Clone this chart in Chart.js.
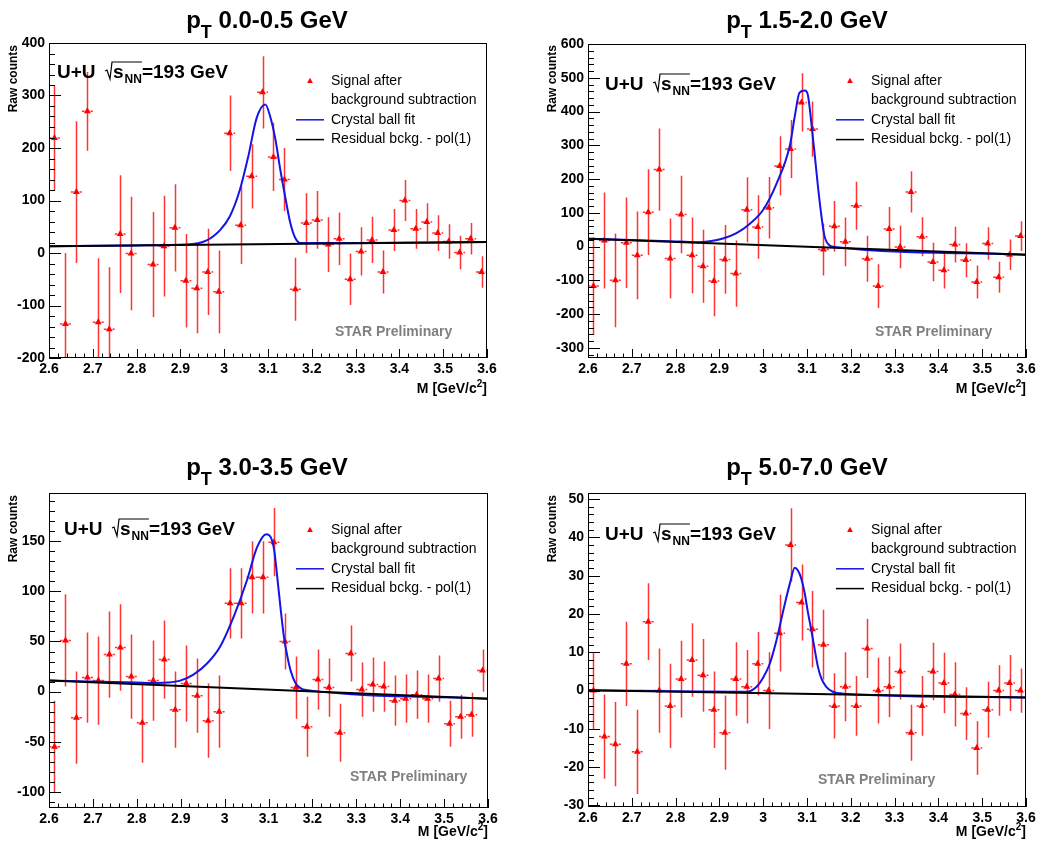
<!DOCTYPE html>
<html>
<head>
<meta charset="utf-8">
<script src="https://cdn.jsdelivr.net/npm/chart.js@4.4.0/dist/chart.umd.min.js"></script>
<style>
body { margin: 0; background: #fff; width: 1041px; height: 850px; position: relative; overflow: hidden; }
canvas { position: absolute; }
</style>
</head>
<body>
<canvas id="pt1" width="520" height="425" style="left:0px;top:0px;width:520px;height:425px"></canvas>
<canvas id="pt2" width="521" height="425" style="left:520px;top:0px;width:521px;height:425px"></canvas>
<canvas id="pt3" width="520" height="425" style="left:0px;top:425px;width:520px;height:425px"></canvas>
<canvas id="pt4" width="521" height="425" style="left:520px;top:425px;width:521px;height:425px"></canvas>
<script>
// invariant mass bin centres (GeV/c^2), bin width 0.025
var massBins = [2.6125, 2.6375, 2.6625, 2.6875, 2.7125, 2.7375, 2.7625, 2.7875, 2.8125, 2.8375,
                2.8625, 2.8875, 2.9125, 2.9375, 2.9625, 2.9875, 3.0125, 3.0375, 3.0625, 3.0875,
                3.1125, 3.1375, 3.1625, 3.1875, 3.2125, 3.2375, 3.2625, 3.2875, 3.3125, 3.3375,
                3.3625, 3.3875, 3.4125, 3.4375, 3.4625, 3.4875, 3.5125, 3.5375, 3.5625, 3.5875];
var halfBin = 0.0125;
var ptRanges = ['0.0-0.5', '1.5-2.0', '3.0-3.5', '5.0-7.0'];

// pT 0.0-0.5 : signal after subtraction and its error (empty bin = null)
var sig1 = [219, -135, 116, 270, -132, -145, 36, -1, null, -22, 13, 48, -53, -67, -36, -74, 228, 53, 146, 306,
            183, 140, -69, 57, 63, 16, 27, -50, 3, 25, -36, 44, 100, 46, 59, 38, 22, 1, 27, -36];
var err1 = [100, 135, 135, 75, 122, 118, 112, 108, null, 100, 96, 83, 89, 86, 82, 79, 72, 74, 61, 69,
            65, 60, 60, 57, 55, 52, 50, 49, 46, 44, 41, 40, 39, 38, 36, 34, 33, 32, 30, 30];
// pT 1.5-2.0
var sig2 = [-117, 18, -100, 11, -26, 102, 228, -35, 95, -26, -58, -102, -38, -80, 109, 58, 115, 239, 289, 427,
            348, -9, 60, 14, 121, -36, -117, 52, -1, 162, 29, -46, -70, 6, -40, -105, 9, -91, -24, 31];
var err2 = [145, 142, 139, 134, 130, 127, 122, 118, 115, 112, 108, 104, 102, 98, 96, 94, 91, 88, 86, 86,
            82, 77, 75, 72, 71, 68, 65, 65, 63, 61, 58, 57, 54, 53, 50, 49, 48, 46, 45, 44];
// pT 3.0-3.5
var sig3 = [-55, 51, -26, 14, 11, 37, 44, 15, -31, 11, 32, -18, 8, -4, -29, -20, 88, 88, 114, 114,
            149, 50, 4, -35, 12, 4, -41, 38, 2, 7, 5, -9, -7, -3, -7, 13, -32, -25, -23, 21];
var err3 = [46, 46, 46, 45, 44, 43, 43, 42, 40, 40, 39, 38, 38, 37, 37, 36, 35, 35, 36, 36,
            34, 28, 31, 30, 30, 29, 29, 28, 27, 27, 25, 25, 24, 24, 24, 23, 23, 22, 22, 21];
// pT 5.0-7.0
var sig4 = [0, -12, -14, 7, -16, 18, 0, -4, 3, 8, 4, -5, -11, 3, 1, 7, 0, 15, 38, 23,
            16, 12, -4, 1, -4, 11, 0, 1, 5, -11, -4, 5, 2, -1, -6, -15, -5, 0, 2, 0];
var err4 = [10, 11, 11, 11, 11, 10, 11, 11, 10, 9.6, 9.5, 10, 9.7, 9.6, 9.6, 8.3, 10, 10, 9.6, 9.9,
            10, 9.1, 8.5, 9, 7.8, 7.7, 8.6, 7.9, 7.3, 7.3, 7.8, 7.5, 7.9, 8.4, 6.9, 7, 7.3, 6.6, 7.3, 5.8];

// crystal ball + background fit, sampled along the curve
var fitM1 = [2.6, 2.8, 2.914, 2.96, 2.991, 3.013, 3.036, 3.055, 3.074, 3.094, 3.105, 3.117, 3.128, 3.139, 3.151, 3.162, 3.174, 3.3, 3.6];
var fitY1 = [13, 14.5, 16, 24, 44, 70, 121, 184, 257, 283, 260, 216, 159, 108, 57, 29, 19, 19, 21];
var fitM2 = [2.6, 2.787, 2.848, 2.878, 2.908, 2.939, 2.969, 3.0, 3.03, 3.061, 3.072, 3.083, 3.095, 3.102, 3.11, 3.118, 3.125, 3.133, 3.14, 3.152, 3.163, 3.6];
var fitY2 = [23, 16, 13, 16, 24, 40, 67, 109, 185, 300, 385, 456, 462, 449, 365, 267, 178, 90, 31, 3, -1, -24];
var fitM3 = [2.6, 2.8, 2.838, 2.868, 2.899, 2.929, 2.96, 2.99, 3.021, 3.051, 3.074, 3.095, 3.105, 3.113, 3.12, 3.128, 3.135, 3.143, 3.151, 3.162, 3.174, 3.189, 3.6];
var fitY3 = [11, 9, 8.6, 9, 11, 17, 28, 45, 75, 111, 144, 157, 154, 141, 114, 81, 55, 35, 20, 8, 3, 1.5, -7];
var fitM4 = [2.6, 2.962, 2.985, 3.0, 3.015, 3.03, 3.046, 3.061, 3.072, 3.079, 3.087, 3.095, 3.102, 3.11, 3.118, 3.125, 3.133, 3.144, 3.159, 3.182, 3.6];
var fitY4 = [0.1, -0.3, 1, 3.4, 7, 13, 21, 28, 32.1, 31.4, 29.2, 25.3, 20.5, 15.7, 10.5, 6.2, 3.1, 1, -0.3, -0.8, -1.8];

// residual background pol(1), end points
var bkgM = [2.6, 3.6];
var bkgY1 = [13, 21];
var bkgY2 = [23, -24];
var bkgY3 = [11, -7];
var bkgY4 = [0.1, -1.8];

var FONT = '"Liberation Sans", Arial, Helvetica, sans-serif';

var panels = [
  { canvas: 'pt1', sig: sig1, err: err1, fitM: fitM1, fitY: fitY1, bkgY: bkgY1, pt: ptRanges[0],
    yMin: -200, yMax: 400, yStep: 100, yMinor: 20,
    pad: { left: 0, top: 43, right: 33, bottom: 0 }, xAxisH: 67,
    titleX: 267, titleY: 28, uuX: 57, uuY: 78, legX: 296, legY: 81, starX: 335, starY: 332,
    yTitleX: 14, yTitleY: 45, xTitleX: 487, xTitleY: 393 },
  { canvas: 'pt2', sig: sig2, err: err2, fitM: fitM2, fitY: fitY2, bkgY: bkgY2, pt: ptRanges[1],
    yMin: -330, yMax: 600, yStep: 100, yMinor: 20,
    pad: { left: 19, top: 44, right: 15, bottom: 0 }, xAxisH: 67,
    titleX: 287, titleY: 28, uuX: 85, uuY: 90, legX: 316, legY: 81, starX: 355, starY: 332,
    yTitleX: 33, yTitleY: 45, xTitleX: 506, xTitleY: 393 },
  { canvas: 'pt3', sig: sig3, err: err3, fitM: fitM3, fitY: fitY3, bkgY: bkgY3, pt: ptRanges[2],
    yMin: -116, yMax: 198, yStep: 50, yMinor: 10,
    pad: { left: 0, top: 68, right: 32, bottom: 0 }, xAxisH: 42,
    titleX: 267, titleY: 50, uuX: 64, uuY: 110, legX: 296, legY: 105, starX: 350, starY: 352,
    yTitleX: 14, yTitleY: 70, xTitleX: 488, xTitleY: 411 },
  { canvas: 'pt4', sig: sig4, err: err4, fitM: fitM4, fitY: fitY4, bkgY: bkgY4, pt: ptRanges[3],
    yMin: -30.4, yMax: 51.6, yStep: 10, yMinor: 2,
    pad: { left: 19, top: 68, right: 15, bottom: 0 }, xAxisH: 43,
    titleX: 287, titleY: 50, uuX: 85, uuY: 115, legX: 316, legY: 105, starX: 298, starY: 355,
    yTitleX: 33, yTitleY: 70, xTitleX: 506, xTitleY: 411 }
];

function toPoints(xs, ys) {
  var out = [];
  for (var i = 0; i < xs.length; i++) {
    if (ys[i] === null) continue;
    out.push({ x: xs[i], y: ys[i] });
  }
  return out;
}

function triangle(ctx, x, y, r) {
  ctx.beginPath();
  ctx.moveTo(x, y - r);
  ctx.lineTo(x + r * 0.9, y + r * 0.6);
  ctx.lineTo(x - r * 0.9, y + r * 0.6);
  ctx.closePath();
  ctx.fill();
}

// "p_T 0.0-0.5 GeV" centred on cx
function drawTitle(ctx, cx, base, pt) {
  var big = 'bold 24px ' + FONT, sub = 'bold 18px ' + FONT;
  var rest = ' ' + pt + ' GeV';
  ctx.font = big;
  var wp = ctx.measureText('p').width, wr = ctx.measureText(rest).width;
  ctx.font = sub;
  var wt = ctx.measureText('T').width;
  var x = cx - (wp + wt + wr) / 2;
  ctx.textAlign = 'left';
  ctx.textBaseline = 'alphabetic';
  ctx.fillStyle = '#000';
  ctx.font = big; ctx.fillText('p', x, base);
  ctx.font = sub; ctx.fillText('T', x + wp, base + 10);
  ctx.font = big; ctx.fillText(rest, x + wp + wt, base);
}

// "U+U  sqrt(s_NN)=193 GeV"
function drawSystem(ctx, x, base) {
  var big = 'bold 19px ' + FONT, sub = 'bold 12px ' + FONT;
  ctx.fillStyle = '#000';
  ctx.strokeStyle = '#000';
  ctx.textAlign = 'left';
  ctx.textBaseline = 'alphabetic';
  ctx.font = big;
  ctx.fillText('U+U', x, base);
  var rx = x + 49;
  var sx = rx + 7;
  ctx.fillText('s', sx, base);
  var nx = sx + ctx.measureText('s').width + 1;
  ctx.font = sub;
  ctx.fillText('NN', nx, base + 5);
  var ex = nx + ctx.measureText('NN').width;
  ctx.lineWidth = 1.2;
  ctx.beginPath();
  ctx.moveTo(rx - 1, base - 7);
  ctx.lineTo(rx + 1, base - 8);
  ctx.lineTo(rx + 4, base + 1);
  ctx.lineTo(rx + 6, base - 16);
  ctx.lineTo(ex, base - 16);
  ctx.stroke();
  ctx.font = big;
  ctx.fillText('=193 GeV', ex, base);
}

var rootStyle = {
  id: 'rootStyle',
  beforeDatasetsDraw: function (chart) {
    var p = chart.options.plugins.rootStyle.panel;
    var ctx = chart.ctx, xs = chart.scales.x, ys = chart.scales.y, area = chart.chartArea;
    ctx.save();
    ctx.beginPath();
    ctx.rect(area.left, area.top, area.right - area.left, area.bottom - area.top);
    ctx.clip();
    ctx.strokeStyle = 'rgba(255,0,0,0.8)';
    ctx.lineWidth = 1.5;
    for (var i = 0; i < massBins.length; i++) {
      if (p.sig[i] === null) continue;
      var px = Math.round(xs.getPixelForValue(massBins[i])) + 0.5;
      var py = ys.getPixelForValue(p.sig[i]);
      var y1 = ys.getPixelForValue(p.sig[i] + p.err[i]);
      var y2 = ys.getPixelForValue(p.sig[i] - p.err[i]);
      var xl = xs.getPixelForValue(massBins[i] - halfBin);
      var xr = xs.getPixelForValue(massBins[i] + halfBin);
      ctx.beginPath();
      ctx.moveTo(px, y1); ctx.lineTo(px, y2);
      ctx.moveTo(xl, py); ctx.lineTo(px - 3, py);
      ctx.moveTo(px + 3, py); ctx.lineTo(xr, py);
      ctx.stroke();
    }
    ctx.restore();
  },
  afterDraw: function (chart) {
    var p = chart.options.plugins.rootStyle.panel;
    var ctx = chart.ctx, xs = chart.scales.x, ys = chart.scales.y, a = chart.chartArea;
    ctx.save();
    // frame
    ctx.strokeStyle = '#000';
    ctx.lineWidth = 1;
    ctx.strokeRect(Math.round(a.left) + 0.5, Math.round(a.top) + 0.5,
                   Math.round(a.right - a.left) - 1, Math.round(a.bottom - a.top) - 1);
    // ticks drawn inside the frame
    ctx.beginPath();
    var k, v, t;
    for (k = 0; k <= 50; k++) {
      v = 2.6 + k * 0.02;
      t = Math.round(xs.getPixelForValue(v)) + 0.5;
      var len = (k % 5 === 0) ? 9 : 4.5;
      ctx.moveTo(t, a.bottom);
      ctx.lineTo(t, a.bottom - len);
    }
    var k0 = Math.ceil(p.yMin / p.yMinor - 1e-6), k1 = Math.floor(p.yMax / p.yMinor + 1e-6);
    var per = Math.round(p.yStep / p.yMinor);
    for (k = k0; k <= k1; k++) {
      v = k * p.yMinor;
      t = Math.round(ys.getPixelForValue(v)) + 0.5;
      var ylen = (((k % per) + per) % per === 0) ? 12 : 6;
      ctx.moveTo(a.left, t);
      ctx.lineTo(a.left + ylen, t);
    }
    ctx.stroke();

    drawTitle(ctx, p.titleX, p.titleY, p.pt);
    drawSystem(ctx, p.uuX, p.uuY);

    // legend
    var lx = p.legX, ly = p.legY;
    ctx.fillStyle = '#ff0000';
    triangle(ctx, lx + 14, ly, 3.2);
    ctx.lineWidth = 1.5;
    ctx.strokeStyle = '#1414e6';
    ctx.beginPath(); ctx.moveTo(lx, ly + 38.8); ctx.lineTo(lx + 28, ly + 38.8); ctx.stroke();
    ctx.strokeStyle = '#000';
    ctx.beginPath(); ctx.moveTo(lx, ly + 58.6); ctx.lineTo(lx + 28, ly + 58.6); ctx.stroke();
    ctx.fillStyle = '#000';
    ctx.font = '14px ' + FONT;
    ctx.textAlign = 'left';
    ctx.textBaseline = 'middle';
    ctx.fillText('Signal after', lx + 35, ly);
    ctx.fillText('background subtraction', lx + 35, ly + 19.5);
    ctx.fillText('Crystal ball fit', lx + 35, ly + 38.8);
    ctx.fillText('Residual bckg. - pol(1)', lx + 35, ly + 58.6);

    ctx.fillStyle = '#808080';
    ctx.font = 'bold 14px ' + FONT;
    ctx.fillText('STAR Preliminary', p.starX, p.starY);

    // axis titles
    ctx.fillStyle = '#000';
    ctx.save();
    ctx.translate(p.yTitleX, p.yTitleY);
    ctx.rotate(-Math.PI / 2);
    ctx.textAlign = 'right';
    ctx.textBaseline = 'middle';
    ctx.font = 'bold 12px ' + FONT;
    ctx.fillText('Raw counts', 0, 0);
    ctx.restore();

    ctx.textBaseline = 'alphabetic';
    ctx.textAlign = 'left';
    ctx.font = 'bold 14px ' + FONT;
    var w1 = ctx.measureText('M [GeV/c').width, w3 = ctx.measureText(']').width;
    ctx.font = 'bold 10px ' + FONT;
    var w2 = ctx.measureText('2').width;
    var x0 = p.xTitleX - w1 - w2 - w3;
    ctx.font = 'bold 14px ' + FONT;
    ctx.fillText('M [GeV/c', x0, p.xTitleY);
    ctx.fillText(']', x0 + w1 + w2, p.xTitleY);
    ctx.font = 'bold 10px ' + FONT;
    ctx.fillText('2', x0 + w1, p.xTitleY - 6);
    ctx.restore();
  }
};

function tickText(v) {
  return String(+v.toFixed(2));
}

panels.forEach(function (p) {
  var ctx = document.getElementById(p.canvas).getContext('2d');
  new Chart(ctx, {
    type: 'scatter',
    data: {
      datasets: [
        { label: 'Residual bckg. - pol(1)', data: toPoints(bkgM, p.bkgY), showLine: true,
          borderColor: '#000', borderWidth: 2, pointRadius: 0, order: 0 },
        { label: 'Crystal ball fit', data: toPoints(p.fitM, p.fitY), showLine: true,
          borderColor: '#1414e6', borderWidth: 2, pointRadius: 0,
          cubicInterpolationMode: 'monotone', order: 1 },
        { label: 'Signal after background subtraction', data: toPoints(massBins, p.sig),
          pointStyle: 'triangle', pointRadius: 4, backgroundColor: '#ff0000',
          borderColor: '#ff0000', borderWidth: 0, order: 2 }
      ]
    },
    options: {
      responsive: false,
      animation: false,
      devicePixelRatio: 1,
      layout: { padding: p.pad },
      plugins: {
        legend: { display: false },
        tooltip: { enabled: false },
        rootStyle: { panel: p }
      },
      scales: {
        x: {
          type: 'linear', min: 2.6, max: 3.6,
          grid: { display: false, drawTicks: false },
          border: { display: false },
          ticks: {
            stepSize: 0.1, autoSkip: false, maxRotation: 0, padding: 3,
            color: '#000', font: { family: FONT, size: 14, weight: 'bold' },
            callback: tickText
          },
          afterFit: function (s) { s.height = p.xAxisH; }
        },
        y: {
          type: 'linear', min: p.yMin, max: p.yMax,
          grid: { display: false, drawTicks: false },
          border: { display: false },
          ticks: {
            stepSize: p.yStep, includeBounds: false, padding: 4,
            color: '#000', font: { family: FONT, size: 14, weight: 'bold' },
            callback: tickText
          },
          afterFit: function (s) { s.width = 49; }
        }
      }
    },
    plugins: [rootStyle]
  });
});
</script>
</body>
</html>
